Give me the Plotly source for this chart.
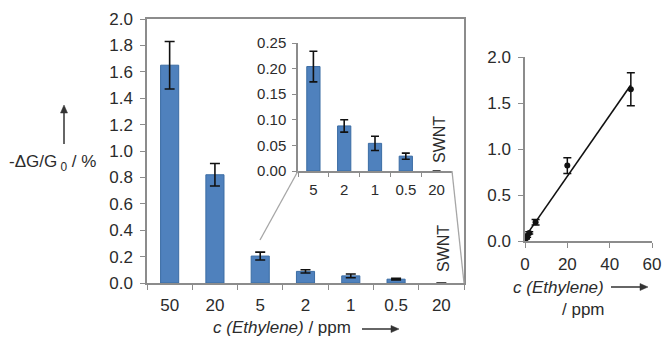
import numpy as np
import plotly.graph_objects as go

# Conductance response of the sensor to ethylene (last column: bare SWNT at 20 ppm)
conc_labels = ["50", "20", "5", "2", "1", "0.5", "20"]
response = [1.65, 0.82, 0.204, 0.088, 0.054, 0.029, 0.0]
response_err = [0.18, 0.085, 0.03, 0.012, 0.014, 0.006, None]

# Concentrations for the calibration plot (sensor columns only)
conc_ppm = [50, 20, 5, 2, 1, 0.5]

# Zoomed inset: the low-concentration columns plus the SWNT control
inset_start = 2

main_y_ticks = [0.0, 0.2, 0.4, 0.6, 0.8, 1.0, 1.2, 1.4, 1.6, 1.8, 2.0]
inset_y_ticks = [0.00, 0.05, 0.10, 0.15, 0.20, 0.25]
cal_x_ticks = [0, 20, 40, 60]
cal_y_ticks = [0.0, 0.5, 1.0, 1.5, 2.0]

W, H = 662, 338
BAR = "#4F81BD"
BAR_EDGE = "#3B6CA3"
AXIS = "#8C8C8C"
TXT = "#2b2b2b"
FONT = "Liberation Sans, Arial, sans-serif"


def px_x(v):
    return v / W


def px_y(v):
    return 1 - v / H


def axis_style(**overrides):
    style = dict(showline=True, linecolor=AXIS, linewidth=1.5,
                 showgrid=False, zeroline=False, ticks="outside",
                 tickcolor=AXIS, tickwidth=1.3, ticklen=5, automargin=False)
    style.update(overrides)
    return style


def edge_widths(values):
    # no outline on zero-height columns
    return [1 if v else 0 for v in values]


fig = go.Figure()

main_x = list(range(len(conc_labels)))
fig.add_trace(go.Bar(
    x=main_x, y=response, width=0.4,
    marker=dict(color=BAR, line=dict(color=BAR_EDGE, width=edge_widths(response))),
    error_y=dict(type="data", array=response_err, color="#111111",
                 thickness=1.6, width=5),
    xaxis="x", yaxis="y",
))

inset_vals = response[inset_start:]
inset_err = response_err[inset_start:]
inset_x = list(range(len(inset_vals)))
fig.add_trace(go.Bar(
    x=inset_x, y=inset_vals, width=0.43,
    marker=dict(color=BAR, line=dict(color=BAR_EDGE, width=edge_widths(inset_vals))),
    error_y=dict(type="data", array=inset_err, color="#111111",
                 thickness=1.6, width=4),
    xaxis="x2", yaxis="y2",
))

# Calibration plot with linear trendline
cal_y = response[:len(conc_ppm)]
cal_err = response_err[:len(conc_ppm)]
slope, intercept = np.polyfit(conc_ppm, cal_y, 1)
fit_x = [min(conc_ppm), max(conc_ppm)]
fit_y = [slope * v + intercept for v in fit_x]
fig.add_trace(go.Scatter(
    x=fit_x, y=fit_y, mode="lines",
    line=dict(color="#111111", width=1.6),
    xaxis="x3", yaxis="y3",
))
fig.add_trace(go.Scatter(
    x=conc_ppm, y=cal_y, mode="markers",
    marker=dict(color="#111111", size=6),
    error_y=dict(type="data", array=cal_err, color="#111111",
                 thickness=1.5, width=4),
    xaxis="x3", yaxis="y3",
))

n_main = len(conc_labels)
n_inset = len(inset_vals)

fig.update_layout(
    width=W, height=H,
    margin=dict(l=0, r=0, t=0, b=0, pad=0, autoexpand=False),
    paper_bgcolor="white", plot_bgcolor="rgba(0,0,0,0)",
    showlegend=False,
    font=dict(family=FONT, color=TXT),
    xaxis=axis_style(
        ticks="",
        domain=[px_x(147), px_x(464)], range=[-0.5, n_main - 0.5],
        mirror=True, tickmode="array", tickvals=main_x, ticktext=conc_labels,
        tickfont=dict(size=17, color=TXT), ticklabelstandoff=6,
        minor=dict(tickmode="array",
                   tickvals=[i - 0.5 for i in range(n_main + 1)],
                   ticks="outside", ticklen=5, tickcolor=AXIS, tickwidth=1.3),
        anchor="y",
    ),
    yaxis=axis_style(
        domain=[px_y(283), px_y(19)], range=[0, 2.0], mirror=True,
        tickmode="array", tickvals=main_y_ticks, tickformat=".1f",
        tickfont=dict(size=17, color=TXT), ticklabelstandoff=4,
        anchor="x",
    ),
    xaxis2=axis_style(
        ticks="",
        domain=[px_x(298), px_x(452)], range=[-0.5, n_inset - 0.5],
        tickmode="array", tickvals=inset_x, ticktext=conc_labels[inset_start:],
        tickfont=dict(size=15, color=TXT), ticklabelstandoff=4,
        minor=dict(tickmode="array",
                   tickvals=[i - 0.5 for i in range(n_inset + 1)],
                   ticks="outside", ticklen=4, tickcolor=AXIS, tickwidth=1.2),
        anchor="y2",
    ),
    yaxis2=axis_style(
        domain=[px_y(171), px_y(43)], range=[0, 0.25],
        tickmode="array", tickvals=inset_y_ticks, tickformat=".2f",
        tickfont=dict(size=15, color=TXT), ticklen=4, ticklabelstandoff=3,
        anchor="x2",
    ),
    xaxis3=axis_style(
        domain=[px_x(525), px_x(652)], range=[0, 60],
        tickmode="array", tickvals=cal_x_ticks,
        tickfont=dict(size=17, color=TXT), ticklabelstandoff=2,
        anchor="y3",
    ),
    yaxis3=axis_style(
        domain=[px_y(241), px_y(57)], range=[0, 2.0],
        tickmode="array", tickvals=cal_y_ticks, tickformat=".1f",
        tickfont=dict(size=17, color=TXT), ticklabelstandoff=4,
        anchor="x3",
    ),
)

# Connector lines from the main chart to the zoomed inset
connector = dict(color="#A6A6A6", width=1.3)
fig.add_shape(type="line", xref="paper", yref="paper",
              x0=px_x(298), y0=px_y(171), x1=px_x(260), y1=px_y(240),
              line=connector)
fig.add_shape(type="line", xref="paper", yref="paper",
              x0=px_x(452), y0=px_y(171), x1=px_x(464), y1=px_y(283),
              line=connector)

annotations = [
    dict(text="SWNT", x=px_x(439), y=px_y(140), textangle=-90,
         font=dict(size=16, color=TXT)),
    dict(text="SWNT", x=px_x(443), y=px_y(249), textangle=-90,
         font=dict(size=16, color=TXT)),
    dict(text="-ΔG/G<sub> 0</sub> / %", x=px_x(52), y=px_y(163),
         font=dict(size=17, color=TXT)),
    dict(text="<i>c (Ethylene)</i> / ppm", x=px_x(282), y=px_y(327),
         font=dict(size=17, color=TXT)),
    dict(text="<i>c (Ethylene)</i>", x=px_x(558), y=px_y(287),
         font=dict(size=17, color=TXT)),
    dict(text="/ ppm", x=px_x(583), y=px_y(309),
         font=dict(size=17, color=TXT)),
]
for a in annotations:
    fig.add_annotation(xref="paper", yref="paper", showarrow=False,
                       xanchor="center", yanchor="middle", **a)


# Direction arrows beside the axis titles: shaft plus filled head
def add_arrow(x0, y0, x1, y1, head_len=8, head_half=3.5):
    dx, dy = x1 - x0, y1 - y0
    length = (dx * dx + dy * dy) ** 0.5
    ux, uy = dx / length, dy / length
    bx, by = x1 - ux * head_len, y1 - uy * head_len
    px_, py_ = -uy * head_half, ux * head_half
    fig.add_shape(type="line", xref="paper", yref="paper",
                  x0=px_x(x0), y0=px_y(y0), x1=px_x(bx), y1=px_y(by),
                  line=dict(color="#333333", width=1.5))
    path = (f"M {px_x(x1)} {px_y(y1)} "
            f"L {px_x(bx + px_)} {px_y(by + py_)} "
            f"L {px_x(bx - px_)} {px_y(by - py_)} Z")
    fig.add_shape(type="path", xref="paper", yref="paper", path=path,
                  fillcolor="#333333", line=dict(color="#333333", width=0.5))


add_arrow(64, 144, 64, 105)
add_arrow(362, 329, 399, 329)
add_arrow(611, 287, 648, 287)

fig.write_html("out.html")
